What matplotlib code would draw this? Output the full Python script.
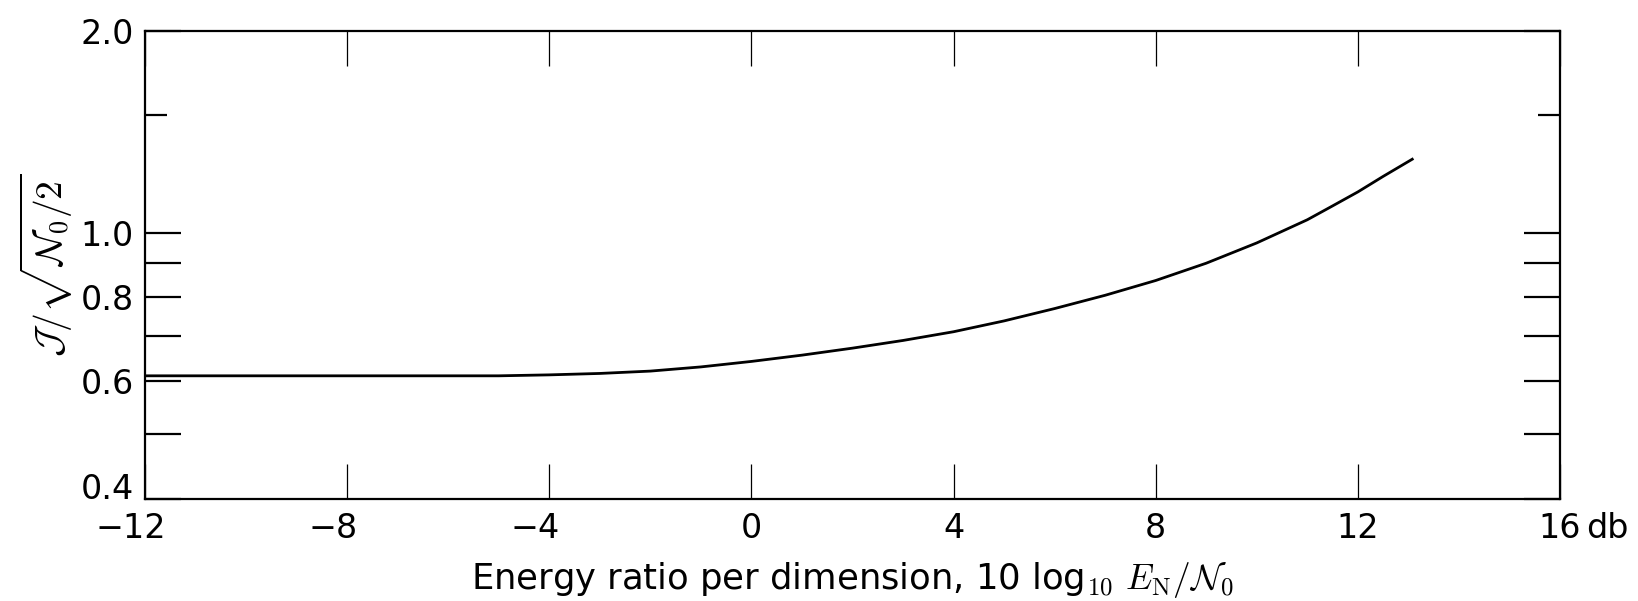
import matplotlib
matplotlib.use("Agg")
import matplotlib.pyplot as plt
from matplotlib.ticker import FixedLocator, FixedFormatter, NullFormatter
from matplotlib.transforms import ScaledTranslation

# values
snr_db = [-12, -10, -8, -6, -5, -4, -3, -2, -1, 0, 1, 2, 3, 4, 5, 6, 7, 8, 9, 10, 11, 11.5, 12, 12.5, 13.1]
j_ratio = [0.611, 0.611, 0.611, 0.611, 0.611, 0.613, 0.616, 0.621, 0.630, 0.642, 0.656, 0.672,
           0.690, 0.711, 0.738, 0.770, 0.806, 0.848, 0.900, 0.965, 1.045, 1.096, 1.150, 1.213, 1.290]

x_ticks = [-12, -8, -4, 0, 4, 8, 12, 16]
x_labels = ["\u221212", "\u22128", "\u22124", "0", "4", "8", "12", "16"]
y_major = [0.4, 0.5, 0.6, 0.7, 0.8, 0.9, 1.0, 2.0]
y_labels = ["0.4", "", "0.6", "", "0.8", "", "1.0", "2.0"]
y_minor = [1.5]


def draw(filename):
    fig = plt.figure(figsize=(16.38, 6.01), dpi=100)
    ax = fig.add_axes([145 / 1638, 1 - 499 / 601, 1415 / 1638, 468 / 601])
    ax.set_yscale("log")
    ax.set_xlim(-12, 16)
    ax.set_ylim(0.4, 2.0)

    ax.plot(snr_db, j_ratio, color="black", linewidth=2.0, solid_capstyle="butt")

    for sp in ax.spines.values():
        sp.set_linewidth(1.6)

    ax.xaxis.set_major_locator(FixedLocator(x_ticks))
    ax.xaxis.set_major_formatter(FixedFormatter(x_labels))
    ax.xaxis.set_minor_locator(FixedLocator([]))
    ax.yaxis.set_major_locator(FixedLocator(y_major))
    ax.yaxis.set_major_formatter(FixedFormatter(y_labels))
    ax.yaxis.set_minor_locator(FixedLocator(y_minor))
    ax.yaxis.set_minor_formatter(NullFormatter())

    ax.tick_params(axis="x", which="major", direction="in", top=True, bottom=True,
                   length=25, width=0.9, pad=9, labelsize=24)
    ax.tick_params(axis="y", which="major", direction="in", left=True, right=True,
                   length=26, width=1.6, pad=8, labelsize=24)
    ax.tick_params(axis="y", which="minor", direction="in", left=True, right=True,
                   length=16, width=1.6)

    # negative numbers: digits centred on the tick, minus hangs to the left
    for val, lab in zip(x_ticks, ax.get_xticklabels()):
        if val < 0:
            lab.set_transform(lab.get_transform() + ScaledTranslation(-10 / 72, 0, fig.dpi_scale_trans))
    for val, lab in zip(y_major, ax.get_yticklabels()):
        if val == 0.4:
            lab.set_verticalalignment("baseline")

    ax.annotate("db", xy=(1, 0), xycoords="axes fraction", xytext=(19, -9),
                textcoords="offset points", ha="left", va="top", fontsize=24)

    ax.set_xlabel(r"Energy ratio per dimension, 10 log$_{10}$ $E_{\mathrm{N}}/\mathcal{N}_0$",
                  fontsize=25.5, math_fontfamily="cm", labelpad=11)
    ax.set_ylabel(r"$\mathcal{J}/\sqrt{\mathcal{N}_0/2}$", fontsize=27, math_fontfamily="cm")
    ax.yaxis.set_label_coords(-0.0495, 0.5)

    fig.savefig(filename, dpi=100)


draw("out.png")
